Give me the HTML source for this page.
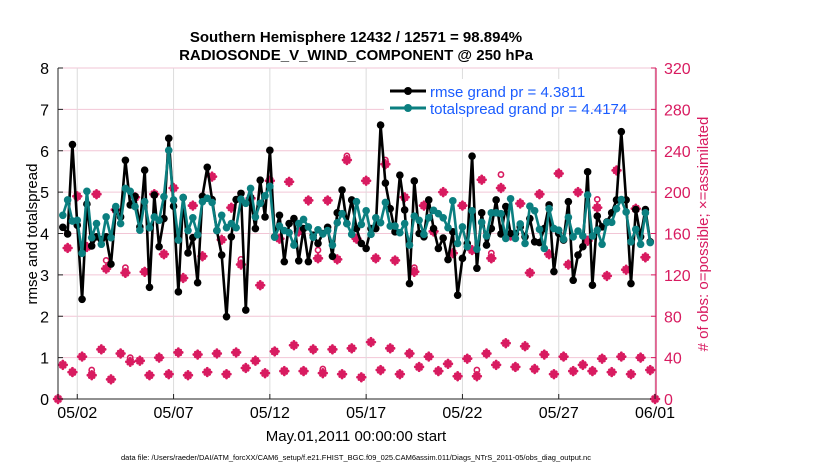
<!DOCTYPE html>
<html><head><meta charset="utf-8"><style>
body{margin:0;background:#fff;}
svg text{font-family:"Liberation Sans",Arial,sans-serif;}
</style></head><body>
<svg id="chart" width="830" height="470" xmlns="http://www.w3.org/2000/svg">
<g id="grid"></g>
<g id="series"></g>
<g id="axes"></g>
<text x="356" y="42" text-anchor="middle" font-size="15" font-weight="bold">Southern Hemisphere 12432 / 12571 = 98.894%</text>
<text x="356" y="60" text-anchor="middle" font-size="15" font-weight="bold">RADIOSONDE_V_WIND_COMPONENT @ 250 hPa</text>
<text x="356" y="441" text-anchor="middle" font-size="15">May.01,2011 00:00:00 start</text>
<text transform="translate(37,234) rotate(-90)" text-anchor="middle" font-size="15">rmse and totalspread</text>
<text transform="translate(708,234) rotate(-90)" text-anchor="middle" font-size="15" fill="#d81b60"># of obs: o=possible; ×=assimilated</text>
<text x="356" y="460" text-anchor="middle" font-size="7.5">data file: /Users/raeder/DAI/ATM_forcXX/CAM6_setup/f.e21.FHIST_BGC.f09_025.CAM6assim.011/Diags_NTrS_2011-05/obs_diag_output.nc</text>
<g>
<rect x="384" y="79" width="208" height="38" fill="#fff"/>
<line x1="390" y1="91" x2="426" y2="91" stroke="#000" stroke-width="3"/>
<circle cx="408" cy="91" r="4" fill="#000"/>
<text x="430" y="97" font-size="15" fill="#1a5cff">rmse grand pr = 4.3811</text>
<line x1="390" y1="108" x2="426" y2="108" stroke="#0b7f80" stroke-width="3"/>
<circle cx="408" cy="108" r="4" fill="#0b7f80"/>
<text x="430" y="114" font-size="15" fill="#1a5cff">totalspread grand pr = 4.4174</text>
</g>
</svg>
<script>
const rmse=[null,4.15,3.99,6.15,4.2,2.41,4.71,3.70,3.92,3.85,3.92,3.26,4.57,4.4,5.77,4.69,4.9,4.16,5.53,2.70,4.93,3.68,4.36,6.30,4.66,2.59,4.87,3.53,3.9,2.81,4.9,5.6,4.82,4.07,3.48,1.99,3.92,4.82,4.97,2.15,4.87,4.12,5.29,4.4,6.01,3.92,4.44,3.32,4.24,4.36,3.34,4.12,3.32,3.96,3.76,4.0,4.15,3.45,4.5,5.05,4.24,4.81,4.12,3.76,3.64,4.12,4.12,6.62,5.22,4.6,4.04,5.41,4.57,2.79,5.27,4.0,3.92,4.81,4.12,3.64,3.89,3.37,4.04,2.51,3.40,3.76,5.87,3.16,4.5,3.72,4.12,4.81,3.99,4.65,4.0,4.0,4.16,3.92,4.36,3.8,3.78,4.12,4.69,3.08,4.0,3.84,4.77,2.87,3.48,3.68,5.49,2.75,4.42,4.16,4.28,4.5,4.81,6.46,4.81,2.79,4.58,3.92,4.58,3.8,null];
const spread=[null,4.44,4.81,4.3,4.32,3.52,5.02,3.9,4.24,3.74,4.4,3.9,4.65,4.24,5.09,5.02,4.65,4.08,4.77,4.14,4.4,4.32,4.89,6.01,4.81,3.84,4.87,4.07,4.38,3.97,4.77,4.85,4.75,4.07,4.44,4.14,4.24,4.14,4.83,4.73,5.09,4.4,4.73,4.91,5.14,3.91,4.18,4.07,4.02,3.72,4.24,4.34,4.16,3.91,4.09,3.99,4.07,3.72,4.26,4.48,4.24,3.98,4.77,4.22,4.55,3.98,4.38,4.26,4.75,4.18,4.18,4.02,4.24,3.72,4.42,4.32,3.98,4.38,4.56,4.48,4.38,4.14,4.79,3.76,4.16,3.68,4.55,3.62,4.27,3.94,4.5,4.5,4.48,3.88,4.84,3.88,4.23,3.76,4.66,4.55,4.1,3.64,4.6,4.12,4.08,3.86,4.39,3.92,4.06,3.94,4.93,3.94,4.08,3.74,4.27,4.27,4.6,4.82,4.52,3.8,4.1,3.74,4.5,3.78,null];
const obsUpper=[0,146,196,147,198,126,183,122,195,123,198,140,204,117,187,138,215,154,185,130,194,110,211,155,210,162,192,136,192,135,231,155,211,136,227,134,195,123,187,162,200,141,187,144,212,136,204,158,189,122,198,140,218,130,200,153,185,119,221,125,184,137,0];
const obsLower=[33,26,41,23,48,19,44,36,37,23,40,24,45,23,43,26,44,24,45,30,37,25,46,27,52,27,48,25,48,24,49,21,55,28,49,24,44,31,41,27,34,22,39,22,44,33,54,31,51,29,43,24,41,27,33,27,39,26,41,24,40,28];
const possibleExtra={10:8,14:5,38:5,54:8,60:4,68:4,74:4,90:5,92:13,112:8,7:5,15:4,87:6,55:4};
const xTickLabels=['05/02','05/07','05/12','05/17','05/22','05/27','06/01'];
const xTickDays=[1,6,11,16,21,26,31];
const yLeftTicks=[0,1,2,3,4,5,6,7,8];
const yRightTicks=[0,40,80,120,160,200,240,280,320];

const X0=58,X1=656,Y0=399,Y1=68,NDAYS=31.05;
const xs=d=>X0+d*(X1-X0)/NDAYS;
const yL=v=>Y0-v*(Y0-Y1)/8;
const yR=v=>Y0-v*(Y0-Y1)/320;
const NS='http://www.w3.org/2000/svg';
function mk(tag,attrs,parent){const e=document.createElementNS(NS,tag);for(const k in attrs)e.setAttribute(k,attrs[k]);parent.appendChild(e);return e;}
const grid=document.getElementById('grid'),ser=document.getElementById('series'),ax=document.getElementById('axes');
const PINK='#d81b60';
yLeftTicks.forEach(v=>{const l=mk('line',{x1:X0,x2:X1,y1:yL(v),y2:yL(v),stroke:'#f2c6d6','stroke-width':1},grid);

});
xTickDays.forEach(d=>{const l=mk('line',{x1:xs(d),x2:xs(d),y1:Y1,y2:Y0,stroke:'#dcdcdc','stroke-width':1},grid);

});
const obs=[];
obsUpper.forEach((v,k)=>obs.push([k*2,v]));
obsLower.forEach((v,k)=>obs.push([k*2+1,v]));
obs.forEach(([i,v])=>{const cx=xs(i*0.25);const pv=v+(possibleExtra[i]||0);
const c=mk('circle',{cx:cx,cy:yR(pv),r:2.6,fill:'none',stroke:PINK,'stroke-width':1.6},ser);


const g=mk('g',{stroke:PINK,'stroke-width':2.8,'stroke-linecap':'round'},ser);


const cy=yR(v),s=3.8;
mk('line',{x1:cx-s,x2:cx+s,y1:cy,y2:cy},g);mk('line',{x1:cx,x2:cx,y1:cy-s,y2:cy+s},g);
mk('line',{x1:cx-s*.6,x2:cx+s*.6,y1:cy-s*.6,y2:cy+s*.6},g);mk('line',{x1:cx-s*.6,x2:cx+s*.6,y1:cy+s*.6,y2:cy-s*.6},g);
mk('circle',{cx:cx,cy:cy,r:3.4,fill:PINK,stroke:'none'},g);});
function drawLine(arr,color,name){let d='';arr.forEach((v,i)=>{if(v==null)return;d+=(d?'L':'M')+xs(i*0.25).toFixed(1)+','+yL(v).toFixed(1);});
const p=mk('path',{d:d,fill:'none',stroke:color,'stroke-width':2.6,'stroke-linejoin':'round'},ser);


arr.forEach((v,i)=>{if(v==null)return;const c=mk('circle',{cx:xs(i*0.25),cy:yL(v),r:3.8,fill:color},ser);

});}
drawLine(rmse,'#000','rmse');
drawLine(spread,'#0b7f80','totalspread');
const ab=mk('line',{x1:X0,x2:X1,y1:Y0,y2:Y0,stroke:'#222','stroke-width':1},ax);


const al=mk('line',{x1:X0,x2:X0,y1:Y1,y2:Y0,stroke:'#222','stroke-width':1},ax);


const ar=mk('line',{x1:X1,x2:X1,y1:Y1,y2:Y0,stroke:PINK,'stroke-width':1.2},ax);


yLeftTicks.forEach(v=>{mk('line',{x1:X0,x2:X0+5,y1:yL(v),y2:yL(v),stroke:'#222'},ax);
const t=mk('text',{x:X0-9,y:yL(v)+6,'text-anchor':'end','font-size':16},ax);t.textContent=v;

});
yRightTicks.forEach(v=>{mk('line',{x1:X1-5,x2:X1,y1:yR(v),y2:yR(v),stroke:PINK},ax);
const t=mk('text',{x:X1+8,y:yR(v)+6,'font-size':16,fill:PINK},ax);t.textContent=v;

});
xTickDays.forEach((d,k)=>{mk('line',{x1:xs(d),x2:xs(d),y1:Y0-5,y2:Y0,stroke:'#222'},ax);
const t=mk('text',{x:xs(d),y:418,'text-anchor':'middle','font-size':16},ax);t.textContent=xTickLabels[k];

});
</script>
</body></html>
